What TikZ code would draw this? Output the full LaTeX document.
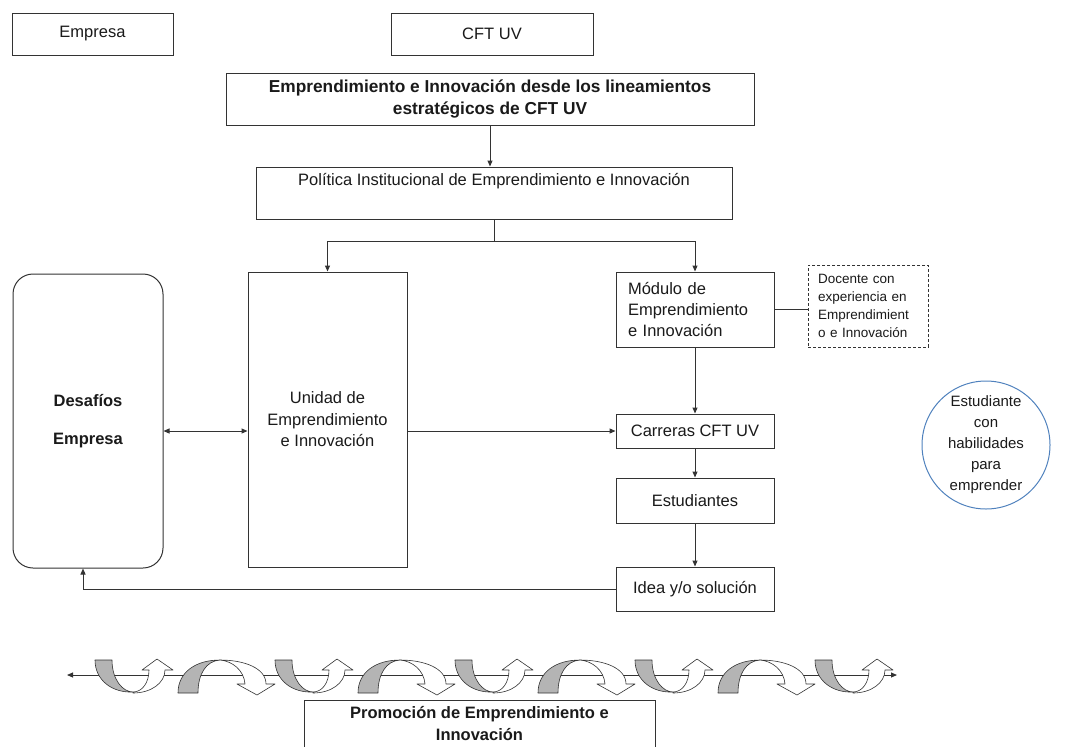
\documentclass[tikz,border=0pt]{standalone}
\usepackage{fontspec}
\setmainfont{Liberation Sans}
\usetikzlibrary{arrows.meta,calc}
\definecolor{linec}{HTML}{333333}
\definecolor{txtc}{HTML}{1A1A1A}
\definecolor{greyf}{HTML}{B4B4B4}
\definecolor{circc}{HTML}{4F81BD}
\newcommand{\mfont}{\fontsize{16.5}{21.5}\selectfont}
\newcommand{\bfont}{\fontsize{17.3}{21.5}\selectfont\bfseries}
\newcommand{\sfont}{\fontsize{13.5}{18}\selectfont}
\newcommand{\cfont}{\fontsize{15}{21}\selectfont}
\begin{document}
\begin{tikzpicture}[x=1pt,y=-1pt,
  box/.style={draw=linec, line width=1pt, fill=white, inner sep=0pt, align=center, font=\mfont, text=txtc},
  ln/.style={draw=linec, line width=1pt},
  arr/.style={draw=linec, line width=1pt, -{Triangle[length=6pt,width=5pt]}},
  arrb/.style={draw=linec, line width=1pt, {Triangle[length=6pt,width=5pt]}-{Triangle[length=6pt,width=5pt]}},
  shp/.style={draw=linec, line width=0.6pt, line join=round},
  pics/uarr/.style={code={
    \filldraw[shp, fill=greyf] (0,2) -- (17,2) .. controls (17,22) and (28,34) .. (38,34) .. controls (17,35) and (0,22) .. (0,2) -- cycle;
    \filldraw[shp, fill=white] (38,35) .. controls (56,35) and (70,25) .. (70,12) -- (78,12) -- (62,1) -- (47,12) -- (54,12) .. controls (54,25) and (47,34) .. (38,34) -- cycle;
  }},
  pics/narr/.style={code={
    \filldraw[shp, fill=greyf] (0,35) -- (20,35) .. controls (20,16) and (28,3) .. (42,2) .. controls (18,2) and (0,14) .. (0,35) -- cycle;
    \filldraw[shp, fill=white] (42,2) .. controls (66,2) and (88,10) .. (88,26) -- (97,26) -- (79,37) -- (59,26) -- (67,26) .. controls (66,12) and (54,3) .. (42,2) -- cycle;
  }}
]
\useasboundingbox (0,0) rectangle (1070,747);
\clip (-5,-5) rectangle (1075,746.3);

% nodes
\node[box, minimum width=161pt, minimum height=42pt] (empresa) at (92.5,34) {Empresa};
\node[box, minimum width=202pt, minimum height=42pt] (cft) at (492,34) {CFT UV};
\node[box, minimum width=528pt, minimum height=52pt, font=\bfont] (emp) at (490,99) {Emprendimiento e Innovación desde los lineamientos\\estratégicos de CFT UV};
\node[box, minimum width=476pt, minimum height=52pt] (politica) at (494,193) {Política Institucional de Emprendimiento e Innovación\\\strut};
\node[box, rounded corners=20pt, minimum width=150pt, minimum height=294pt, font={\mfont\bfseries}] (desafios) at (88,421) {Desafíos\\[16.5pt]Empresa};
\node[box, minimum width=159pt, minimum height=295pt] (unidad) at (327.5,419.5) {Unidad de\\Emprendimiento\\e Innovación};
\node[box, minimum width=158pt, minimum height=75pt, text width=134pt, inner xsep=12pt, align=left] (modulo) at (695,309.5) {Módulo de\\Emprendimiento\\e Innovación};
\node[box, dash pattern=on 3pt off 2pt, minimum width=120pt, minimum height=82pt, text width=100pt, inner xsep=10pt, align=left, font=\sfont] (docente) at (868,306) {Docente con\\experiencia en\\Emprendimient\\o e Innovación};
\node[box, minimum width=158pt, minimum height=34pt] (carreras) at (695,431) {Carreras CFT UV};
\node[box, minimum width=158pt, minimum height=45pt] (estudiantes) at (695,500.5) {Estudiantes};
\node[box, minimum width=158pt, minimum height=44pt] (idea) at (695,589) {Idea y/o solución};
\node[circle, draw=circc, line width=1pt, minimum size=128pt, inner sep=0pt, align=center, font=\cfont, text=txtc] (estud) at (986,445) {Estudiante\\con\\habilidades\\para\\emprender};
\node[box, minimum width=351pt, minimum height=47pt, font={\mfont\bfseries}] (promo) at (479.5,723.5) {Promoción de Emprendimiento e\\Innovación};

% connectors
\draw[arr] (emp.south) -- (emp.south |- politica.north);
\coordinate (pb) at ($(politica.south)+(0,22)$);
\draw[ln] (politica.south) -- (pb);
\draw[arr] (pb) -| (unidad.north);
\draw[arr] (pb) -| (modulo.north);
\draw[ln] (modulo.east) -- (modulo.east -| docente.west);
\draw[arr] (modulo.south) -- (carreras.north);
\draw[arr] (unidad.east |- carreras.west) -- (carreras.west);
\draw[arrb] (desafios.east |- carreras.west) -- (unidad.west |- carreras.west);
\draw[arr] (carreras.south) -- (estudiantes.north);
\draw[arr] (estudiantes.south) -- (idea.north);
\draw[arr] (idea.west) -| ([xshift=-5pt]desafios.south);

% bottom promotion line with curved arrows
\coordinate (bl) at (67,675);
\coordinate (br) at (897,675);
\draw[arrb] (bl) -- (br);
\foreach \k in {0,...,4} {\pic at ({95+180*\k},658) {uarr};}
\foreach \k in {0,...,3} {\pic at ({178+180*\k},658) {narr};}
\end{tikzpicture}
\end{document}
